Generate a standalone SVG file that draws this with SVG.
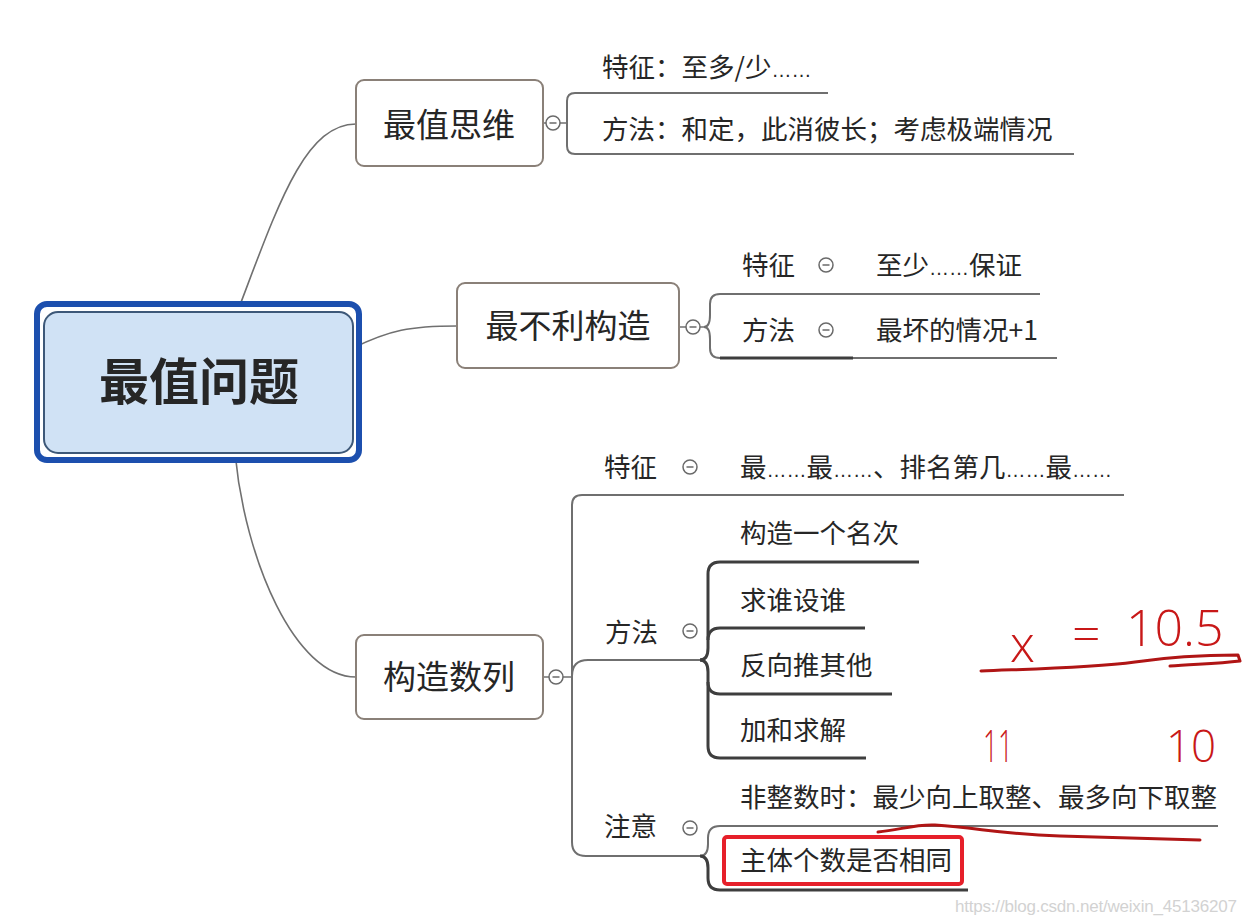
<svg xmlns="http://www.w3.org/2000/svg" width="1258" height="923" viewBox="0 0 1258 923">
<style>
.t{font-family:"Noto Sans CJK SC","Noto Sans",sans-serif;fill:#262626}
.lbl{font-size:33px;text-anchor:middle}
.sub{font-size:26.5px}
.d{font-family:"Liberation Sans",sans-serif;font-size:20px}
.node{fill:#fff;stroke:#8a8078;stroke-width:2}
.c{fill:none;stroke:#707070;stroke-width:1.6}
.ul{fill:none;stroke:#6f6f6f;stroke-width:2}
.ul2{fill:none;stroke:#3e3e3e;stroke-width:3}
.tog circle{fill:#fff;stroke:#6a6a6a;stroke-width:1.5}
.tog path{stroke:#6a6a6a;stroke-width:1.5}
.hw{font-family:"Open Sans","Lato","Liberation Sans",sans-serif;font-weight:300;fill:#c81818}
.red{fill:none;stroke:#b01515;stroke-width:3;stroke-linecap:round;stroke-linejoin:round}
</style>
<defs>
<g id="tg" class="tog"><circle r="7"/><path d="M-3.5,0H3.5"/></g>
</defs>
<rect width="1258" height="923" fill="#fff"/>

<g id="connectors">
<path class="c" d="M240,305 C278,205 305,124 356,124"/>
<path class="c" d="M353,348 C390,330 410,326 457,326"/>
<path class="c" d="M235,453 C245,560 295,677 356,677"/>
<path class="c" d="M543,123H546 M560,123H567"/>
<path class="ul" d="M828,93 H575 Q567,93 567,101 V146 Q567,154 575,154 H1074"/>
<path class="c" d="M679,327H686 M700,327H704"/>
<path class="ul" d="M704,327 Q710,327 710,315 V304 Q710,294 720,294 H1040"/>
<path class="ul" d="M704,327 Q710,327 710,339 V348 Q710,358 720,358 H1057"/>
<path class="ul2" d="M720,358 H853"/>
<path class="c" d="M543,677H549 M563,677H572"/>
<path class="ul" d="M572,677 V505 Q572,495 582,495 H1124"/>
<path class="ul" d="M572,676 Q572,660 588,660 H704"/>
<path class="ul" d="M572,677 V842 Q572,856 586,856 H704"/>
<path class="ul2" d="M700,660 Q708,660 708,648 V574 Q708,562 720,562 H919"/>
<path class="ul2" d="M708,640 Q708,628 720,628 H865"/>
<path class="ul2" d="M708,682 Q708,694 720,694 H892"/>
<path class="ul2" d="M700,660 Q708,660 708,672 V746 Q708,758 720,758 H866"/>
<path class="ul" d="M700,856 Q708,856 708,844 V838 Q708,826 720,826 H1218"/>
<path class="ul2" d="M700,856 Q708,856 708,868 V878 Q708,890 720,890 H968"/>
</g>

<g id="root">
<rect x="37" y="304" width="322" height="156" rx="10" fill="#fff" stroke="#1c4fae" stroke-width="6"/>
<rect x="44" y="312" width="309" height="141" rx="14" fill="#d0e2f5" stroke="#3d5878" stroke-width="2"/>
<text class="t" x="199" y="400" font-size="50" font-weight="bold" text-anchor="middle">最值问题</text>
</g>

<g id="n1">
<rect class="node" x="356" y="80" width="187" height="86" rx="8"/>
<text class="t lbl" x="449" y="137">最值思维</text>
<use href="#tg" x="553" y="123"/>
</g>
<g id="n1a"><text class="t sub" x="602" y="77">特征：至多/少<tspan class="d">……</tspan></text></g>
<g id="n1b"><text class="t sub" x="602" y="139">方法：和定，此消彼长；考虑极端情况</text></g>

<g id="n2">
<rect class="node" x="457" y="283" width="222" height="85" rx="8"/>
<text class="t lbl" x="568" y="338">最不利构造</text>
<use href="#tg" x="693" y="327"/>
</g>
<g id="n2a"><text class="t sub" x="742" y="275">特征</text><use href="#tg" x="826" y="265"/></g>
<g id="n2a1"><text class="t sub" x="876" y="275">至少<tspan class="d">……</tspan>保证</text></g>
<g id="n2b"><text class="t sub" x="742" y="340">方法</text><use href="#tg" x="826" y="330"/></g>
<g id="n2b1"><text class="t sub" x="876" y="340">最坏的情况+1</text></g>

<g id="n3">
<rect class="node" x="356" y="635" width="187" height="84" rx="8"/>
<text class="t lbl" x="449" y="689">构造数列</text>
<use href="#tg" x="556" y="677"/>
</g>
<g id="n3a"><text class="t sub" x="604" y="477">特征</text><use href="#tg" x="690" y="467"/></g>
<g id="n3a1"><text class="t sub" x="740" y="477">最<tspan class="d">……</tspan>最<tspan class="d">……</tspan>、排名第几<tspan class="d">……</tspan>最<tspan class="d">……</tspan></text></g>
<g id="n3b"><text class="t sub" x="605" y="642">方法</text><use href="#tg" x="690" y="631"/></g>
<g id="n3b1"><text class="t sub" x="740" y="543">构造一个名次</text></g>
<g id="n3b2"><text class="t sub" x="740" y="610">求谁设谁</text></g>
<g id="n3b3"><text class="t sub" x="740" y="675">反向推其他</text></g>
<g id="n3b4"><text class="t sub" x="740" y="740">加和求解</text></g>
<g id="n3c"><text class="t sub" x="604" y="836">注意</text><use href="#tg" x="690" y="828"/></g>
<g id="n3c1"><text class="t sub" x="740" y="807">非整数时：最少向上取整、最多向下取整</text></g>
<g id="n3c2">
<rect x="724" y="837" width="238" height="47" rx="3" fill="none" stroke="#e6202a" stroke-width="4"/>
<text class="t sub" x="740" y="870">主体个数是否相同</text>
</g>

<g id="handwriting">
<text class="hw" font-size="50"><tspan x="1010" y="662">x</tspan><tspan x="1072" y="652">=</tspan><tspan x="1126" y="646">10.5</tspan></text>
<text class="hw" font-size="44" x="983" y="762" textLength="30" lengthAdjust="spacingAndGlyphs">11</text>
<text class="hw" font-size="44" x="1166" y="762">10</text>
<path class="red" d="M981,671 C1030,669 1090,668 1135,662 C1175,656 1215,655 1238,655 L1240,661 C1215,664 1190,664 1170,666"/>
<path class="red" stroke-width="2.5" d="M878,832 C900,830 915,824 935,825 C980,828 1000,834 1060,836 C1120,838 1160,839 1200,840"/>
</g>

<text x="955" y="912" font-family="Liberation Sans, sans-serif" font-size="17" fill="#d2d2d2" textLength="282">https://blog.csdn.net/weixin_45136207</text>
</svg>
